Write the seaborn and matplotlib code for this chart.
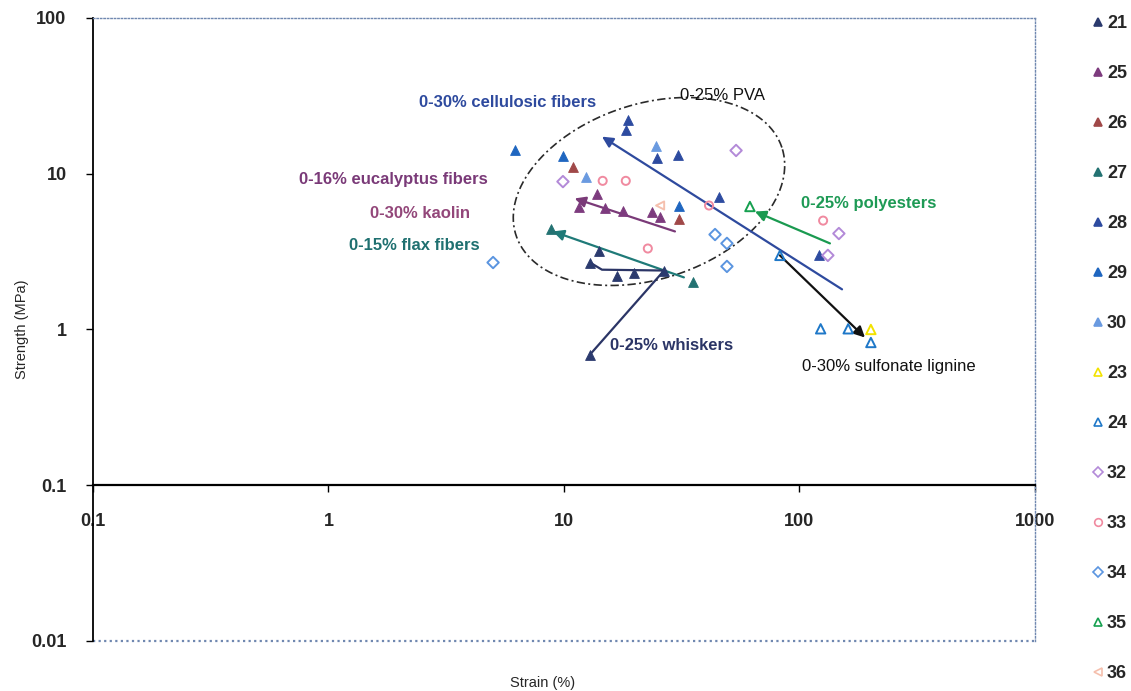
import numpy as np
import matplotlib
matplotlib.use("Agg")
import matplotlib.pyplot as plt
from matplotlib.lines import Line2D
from matplotlib.transforms import IdentityTransform
import seaborn as sns

# ---- series: strain (%) and strength (MPa) ----
s21_strain = [12.9, 16.8, 19.8, 26.6, 14.1, 12.9]
s21_strength = [2.69, 2.22, 2.32, 2.39, 3.21, 0.69]
s25_strain = [13.8, 11.6, 14.9, 17.8, 23.6, 25.6]
s25_strength = [7.4, 6.1, 6.0, 5.8, 5.7, 5.3]
s26_strain = [10.9, 30.8]
s26_strength = [11.1, 5.1]
s27_strain = [8.8, 35.3]
s27_strength = [4.39, 2.03]
s28_strain = [18.7, 18.3, 24.8, 30.5, 45.5, 121]
s28_strength = [22.0, 19.0, 12.7, 13.1, 7.1, 2.99]
s29_strain = [6.2, 9.9, 30.8]
s29_strength = [14.3, 12.9, 6.2]
s30_strain = [24.6, 12.4]
s30_strength = [15.0, 9.5]
s23_strain = [201]
s23_strength = [1.0]
s24_strain = [82.6, 123, 161, 201]
s24_strength = [2.99, 1.01, 1.01, 0.825]
s32_strain = [53.8, 9.9, 147, 132]
s32_strength = [14.1, 8.9, 4.13, 2.99]
s33_strain = [14.6, 18.3, 41.3, 22.7, 126]
s33_strength = [9.0, 9.0, 6.25, 3.31, 5.0]
s34_strain = [5.0, 43.8, 49.2, 49.2]
s34_strength = [2.69, 4.07, 3.57, 2.54]
s35_strain = [61.6]
s35_strength = [6.16]
s36_strain = [25.6]
s36_strength = [6.25]

series_names = ["21", "25", "26", "27", "28", "29", "30",
                "23", "24", "32", "33", "34", "35", "36"]
series_strain = [s21_strain, s25_strain, s26_strain, s27_strain, s28_strain,
                 s29_strain, s30_strain, s23_strain, s24_strain, s32_strain,
                 s33_strain, s34_strain, s35_strain, s36_strain]
series_strength = [s21_strength, s25_strength, s26_strength, s27_strength,
                   s28_strength, s29_strength, s30_strength, s23_strength,
                   s24_strength, s32_strength, s33_strength, s34_strength,
                   s35_strength, s36_strength]

# ---- trend arrows (start -> end) ----
arrow_from_strain = [151.6, 134.7, 29.6, 32.3, 82.6]
arrow_from_strength = [1.81, 3.57, 4.26, 2.16, 2.99]
arrow_to_strain = [14.5, 64.7, 11.1, 8.98, 189.7]
arrow_to_strength = [17.3, 5.72, 6.94, 4.26, 0.888]

# whiskers: link through the 21 points and the drop to the last one
whisker_strain = [12.9, 14.5, 26.6, 12.9]
whisker_strength = [2.69, 2.42, 2.39, 0.69]

# ---- annotation texts ----
note_texts = ["0-30% cellulosic fibers", "0-25% PVA", "0-16% eucalyptus fibers",
              "0-30% kaolin", "0-15% flax fibers", "0-25% whiskers",
              "0-25% polyesters", "0-30% sulfonate lignine"]
note_strain = [5.78, 46.9, 1.88, 2.45, 2.31, 28.5, 197, 240]
note_strength = [28.7, 31.8, 9.19, 5.56, 3.46, 0.789, 6.44, 0.579]

x_ticks = [0.1, 1, 10, 100, 1000]
x_ticklabels = ["0.1", "1", "10", "100", "1000"]
y_ticks = [0.01, 0.1, 1, 10, 100]
y_ticklabels = ["0.01", "0.1", "1", "10", "100"]

# ---- styling ----
sns.set_theme(style="white")
plt.rcParams["font.family"] = ["Liberation Sans", "DejaVu Sans"]

styles = {
    "21": ("^", "#2b3a6e", True),
    "25": ("^", "#7d3b7e", True),
    "26": ("^", "#a04848", True),
    "27": ("^", "#237272", True),
    "28": ("^", "#2d4ba0", True),
    "29": ("^", "#1f66c0", True),
    "30": ("^", "#6a9ae0", True),
    "23": ("^", "#f2e200", False),
    "24": ("^", "#1f78c8", False),
    "32": ("D", "#b38ad8", False),
    "33": ("o", "#f08aa0", False),
    "34": ("D", "#5b95e0", False),
    "35": ("^", "#16a050", False),
    "36": ("<", "#f5c0ae", False),
}
arrow_colors = ["#2e4a9e", "#1a9a50", "#7a3a78", "#1f7a78", "#111111"]
note_colors = ["#2e4a9e", "#111111", "#7a3a78", "#93477a", "#1f7070",
               "#2b3566", "#1e9a55", "#111111"]
note_weights = ["bold", "normal", "bold", "bold", "bold", "bold", "bold", "normal"]

fig = plt.figure(figsize=(11.31, 6.91), dpi=100, facecolor="white")
ax = fig.add_axes([0.0822, 0.0724, 0.8329, 0.9016])
ax.set_facecolor("white")

for name, xs, ys in zip(series_names, series_strain, series_strength):
    mk, col, filled = styles[name]
    if filled:
        sns.scatterplot(x=xs, y=ys, ax=ax, marker=mk, color=col,
                        edgecolor=col, s=50, linewidth=0.6, zorder=5)
    else:
        sns.scatterplot(x=xs, y=ys, ax=ax, marker=mk, color=col,
                        facecolors="none", edgecolor=col,
                        s=34 if mk != "^" else 46, linewidth=1.4, zorder=5)

ax.set_xscale("log")
ax.set_yscale("log")
ax.set_xlim(0.1, 1000)
ax.set_ylim(0.01, 100)

# trend arrows
for x0, y0, x1, y1, col in zip(arrow_from_strain, arrow_from_strength,
                               arrow_to_strain, arrow_to_strength, arrow_colors):
    ax.annotate("", xy=(x1, y1), xytext=(x0, y0),
                arrowprops=dict(arrowstyle="-|>", color=col, lw=1.6,
                                mutation_scale=16, shrinkA=0, shrinkB=0),
                zorder=4)
ax.plot(whisker_strain, whisker_strength, color="#2b3566", lw=1.6, zorder=4)

# dash-dot envelope around the PVA blends (tilted ellipse in screen space)
fig.canvas.draw()
cx, cy = ax.transData.transform((22.96, 7.69))
t = np.linspace(0, 2 * np.pi, 400)
a_px, b_px, ang = 140, 87.5, np.deg2rad(18.3)
ex = cx + a_px * np.cos(t) * np.cos(ang) - b_px * np.sin(t) * np.sin(ang)
ey = cy + a_px * np.cos(t) * np.sin(ang) + b_px * np.sin(t) * np.cos(ang)
ax.add_line(Line2D(ex, ey, transform=IdentityTransform(), color="#2a2a2a",
                   lw=1.2, dashes=(5, 2, 1.2, 2), zorder=3))

for txt, x, y, col, w in zip(note_texts, note_strain, note_strength,
                             note_colors, note_weights):
    ax.text(x, y, txt, color=col, fontsize=12, fontweight=w,
            ha="center", va="center", zorder=6)

# axes frame: y axis solid, x axis crossing at 0.1, dotted plot-area border
ax.spines["left"].set_color("black")
ax.spines["left"].set_linewidth(1.3)
ax.spines["bottom"].set_position(("data", 0.1))
ax.spines["bottom"].set_color("black")
ax.spines["bottom"].set_linewidth(1.6)
for side in ["top", "right"]:
    ax.spines[side].set_color("#7088b0")
    ax.spines[side].set_linestyle((0, (1, 1.5)))
    ax.spines[side].set_linewidth(1.0)
ax.axhline(0.01, color="#7088b0", lw=1.6, ls=(0, (1, 1.5)), clip_on=False)

ax.set_xticks(x_ticks)
ax.set_xticklabels(x_ticklabels)
ax.set_yticks(y_ticks)
ax.set_yticklabels(y_ticklabels)
ax.minorticks_off()
ax.tick_params(axis="x", which="major", direction="out", length=5, width=1,
               color="black", pad=15, labelsize=13, bottom=True)
ax.tick_params(axis="y", which="major", direction="out", length=5, width=1,
               color="black", pad=14, labelsize=13, left=True)
for lab in ax.get_xticklabels() + ax.get_yticklabels():
    lab.set_fontweight("bold")

ax.set_xlabel("Strain (%)", fontsize=10.5)
ax.xaxis.set_label_coords(0.477, -0.056)
ax.set_ylabel("Strength (MPa)", fontsize=10.5)
ax.yaxis.set_label_coords(-0.068, 0.5)

handles = []
for name in series_names:
    mk, col, filled = styles[name]
    handles.append(Line2D([], [], ls="none", marker=mk, color=col,
                          markerfacecolor=col if filled else "none",
                          markeredgecolor=col, markersize=5.5,
                          markeredgewidth=1.2))
fig.legend(handles, series_names, loc="upper left",
           bbox_to_anchor=(0.958, 0.989), frameon=False,
           prop={"size": 13, "weight": "bold"}, handlelength=0.8,
           handletextpad=0.1, labelspacing=1.83, borderaxespad=0)

fig.savefig("out.png", dpi=100, facecolor="white")
